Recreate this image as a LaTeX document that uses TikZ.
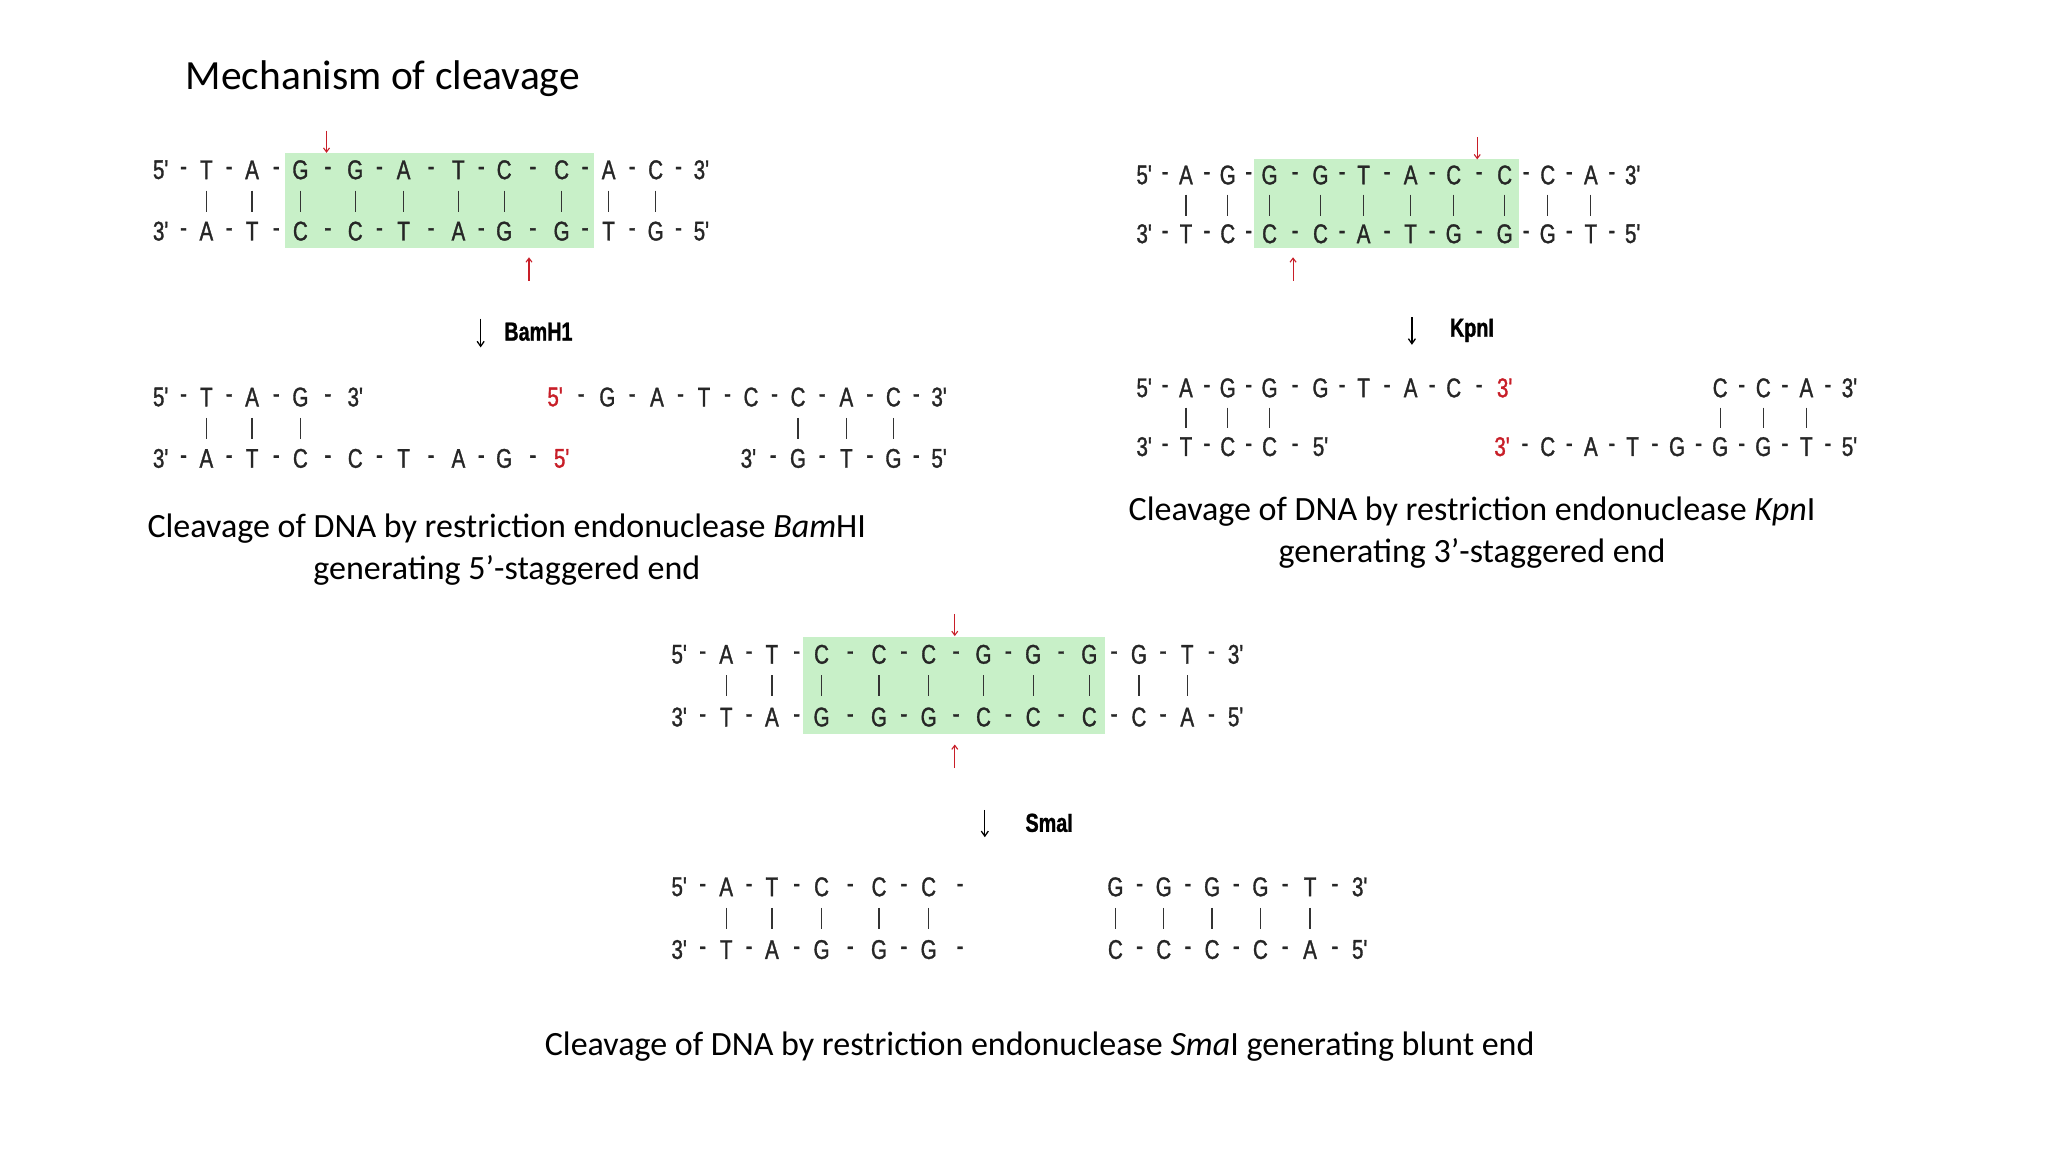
\documentclass[tikz,border=0pt]{standalone}
\usepackage{fontspec}
\setmainfont{Carlito}
\newfontfamily\dnafont[FakeStretch=0.76,FakeBold=1.2]{Liberation Sans}
\definecolor{hl}{RGB}{200,240,200}
\definecolor{cut}{RGB}{200,30,40}
\newcommand\strand[2]{%
  \foreach \x/\t [remember=\x as \px (initially -1)] in {#2} {%
    \node[dna] at (\x,#1) {\t};
    \ifdim\px pt>0pt \node[dna] at ({(\x+\px)/2},#1+1) {-};\fi
  }}
\newcommand\bars[2]{\foreach \x in {#2} {\draw[bar] (\x,#1-8) -- (\x,#1+8);}}
\usetikzlibrary{arrows.meta}
\tikzset{
  dna/.style={inner sep=0pt,font=\dnafont\fontsize{27}{27}\selectfont,text=black!85},
  bar/.style={line width=1.2pt,black!80},
  captext/.style={font=\fontsize{34}{42}\selectfont,align=center,inner sep=0pt},
  cutarrow/.style={cut,line width=1.1pt,-{Straight Barb[length=4pt,width=6pt]}},
  enz/.style={black,line width=1.3pt,-{Straight Barb[length=5pt,width=7pt]}},
  enzlab/.style={inner sep=0pt,anchor=west,font=\dnafont\bfseries\fontsize{26}{26}\selectfont}
}
\begin{document}
\begin{tikzpicture}[x=1.306pt,y=-1.306pt]
\useasboundingbox[fill=white] (0,0) rectangle (1568,882);
\node[anchor=west,inner sep=0pt,font=\fontsize{41.5}{42}\selectfont] (title) at (142,60) {Mechanism of cleavage};
% BamHI
\fill[hl] (218,117) rectangle (455,190);
\strand{130}{123/5', 158/T, 193/A, 230/G, 272/G, 309/A, 351/T, 386/C, 430/C, 466/A, 502/C, 537/3'}
\bars{154}{158,193,230,272,309,351,386,430,466,502}
\strand{177}{123/3', 158/A, 193/T, 230/C, 272/C, 309/T, 351/A, 386/G, 430/G, 466/T, 502/G, 537/5'}
\coordinate (b1) at (250,100); \coordinate (b2) at (250,117);
\draw[cutarrow] (b1) -- (b2);
\coordinate (b3) at (405,215); \coordinate (b4) at (405,197);
\draw[cutarrow] (b3) -- (b4);
\coordinate (b5) at (368,244); \coordinate (b6) at (368,266);
\draw[enz] (b5) -- (b6);
\node[enzlab] (bamlab) at (386,254) {BamH1};
\strand{304}{123/5', 158/T, 193/A, 230/G, 272/3'}
\bars{328}{158,193,230}
\strand{351}{123/3', 158/A, 193/T, 230/C, 272/C, 309/T, 351/A, 386/G, 430/{\color{cut}5'}}
\strand{304}{425/{\color{cut}5'}, 465/G, 503/A, 539/T, 575/C, 611/C, 648/A, 684/C, 719/3'}
\bars{328}{611,648,684}
\strand{351}{573/3', 611/G, 648/T, 684/G, 719/5'}
\node[captext] (capb) at (388,421) {Cleavage of DNA by restriction endonuclease \emph{Bam}HI\\generating 5’-staggered end};
% KpnI
\fill[hl] (960,122) rectangle (1163,190);
\strand{134}{876/5', 908/A, 940/G, 972/G, 1011/G, 1044/T, 1080/A, 1113/C, 1152/C, 1185/C, 1218/A, 1250/3'}
\bars{157}{908,940,972,1011,1044,1080,1113,1152,1185,1218}
\strand{179}{876/3', 908/T, 940/C, 972/C, 1011/C, 1044/A, 1080/T, 1113/G, 1152/G, 1185/G, 1218/T, 1250/5'}
\coordinate (k1) at (1131,105); \coordinate (k2) at (1131,122);
\draw[cutarrow] (k1) -- (k2);
\coordinate (k3) at (990,215); \coordinate (k4) at (990,197);
\draw[cutarrow] (k3) -- (k4);
\coordinate (k5) at (1081,243); \coordinate (k6) at (1081,264);
\draw[enz] (k5) -- (k6);
\node[enzlab] (kpnlab) at (1110,253) {KpnI};
\strand{297}{876/5', 908/A, 940/G, 972/G, 1011/G, 1044/T, 1080/A, 1113/C, 1152/{\color{cut}3'}}
\bars{320}{908,940,972}
\strand{342}{876/3', 908/T, 940/C, 972/C, 1011/5'}
\strand{297}{1317/C, 1350/C, 1383/A, 1416/3'}
\bars{320}{1317,1350,1383}
\strand{342}{1150/{\color{cut}3'}, 1185/C, 1218/A, 1250/T, 1284/G, 1317/G, 1350/G, 1383/T, 1416/5'}
\node[captext] (capk) at (1127,408) {Cleavage of DNA by restriction endonuclease \emph{Kpn}I\\generating 3’-staggered end};
% SmaI
\fill[hl] (615,488) rectangle (846,562);
\strand{501}{520/5', 556/A, 591/T, 629/C, 673/C, 711/C, 753/G, 791/G, 834/G, 872/G, 909/T, 946/3'}
\bars{525}{556,591,629,673,711,753,791,834,872,909}
\strand{549}{520/3', 556/T, 591/A, 629/G, 673/G, 711/G, 753/C, 791/C, 834/C, 872/C, 909/A, 946/5'}
\coordinate (s1) at (731,470); \coordinate (s2) at (731,487);
\draw[cutarrow] (s1) -- (s2);
\coordinate (s3) at (731,588); \coordinate (s4) at (731,570);
\draw[cutarrow] (s3) -- (s4);
\coordinate (s5) at (754,620); \coordinate (s6) at (754,641);
\draw[enz] (s5) -- (s6);
\node[enzlab] (smalab) at (785,630) {SmaI};
\strand{679}{520/5', 556/A, 591/T, 629/C, 673/C, 711/C}
\node[dna] (sd1) at (735,680) {-};
\bars{703}{556,591,629,673,711}
\strand{727}{520/3', 556/T, 591/A, 629/G, 673/G, 711/G}
\node[dna] (sd2) at (735,728) {-};
\strand{679}{854/G, 891/G, 928/G, 965/G, 1003/T, 1041/3'}
\bars{703}{854,891,928,965,1003}
\strand{727}{854/C, 891/C, 928/C, 965/C, 1003/A, 1041/5'}
\node[captext] (caps) at (796,801) {Cleavage of DNA by restriction endonuclease \emph{Sma}I generating blunt end};
\end{tikzpicture}
\end{document}
